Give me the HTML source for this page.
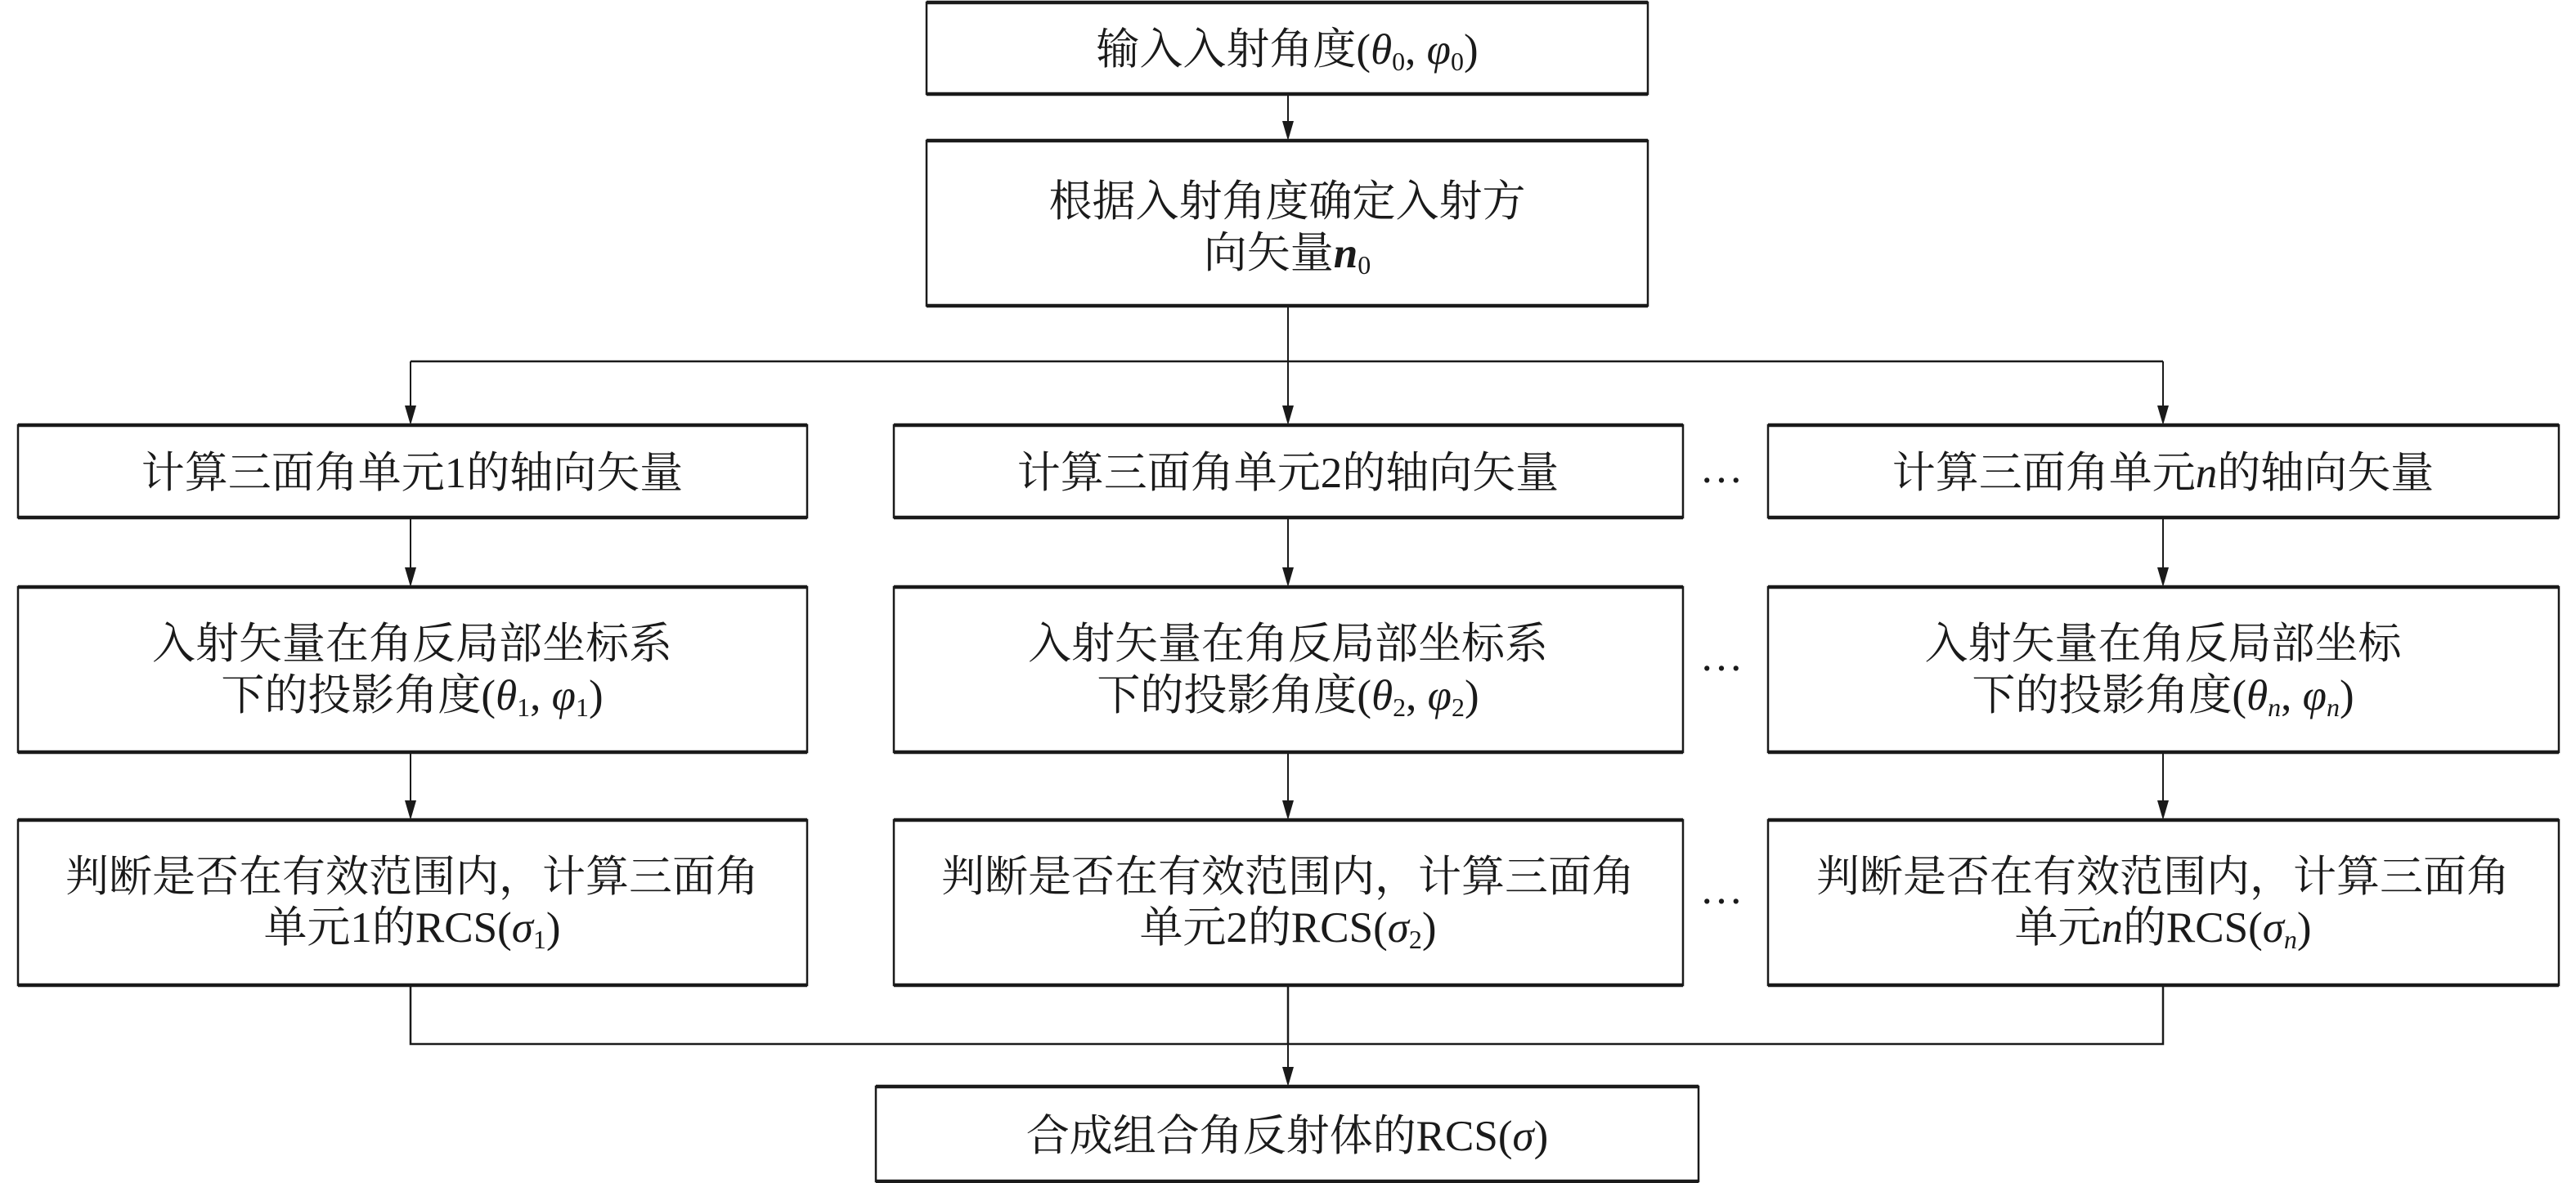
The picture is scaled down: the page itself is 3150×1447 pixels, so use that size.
<!DOCTYPE html>
<html><head><meta charset="utf-8"><style>
html,body{margin:0;padding:0;background:#fff;}
svg{display:block}
text{font-family:"Liberation Serif","Noto Serif CJK SC",serif;font-size:53px;fill:#1a1a1a;text-anchor:middle;}
.i{font-style:italic}
</style></head><body>
<svg width="3150" height="1447" viewBox="0 0 3150 1447" xmlns="http://www.w3.org/2000/svg">
<g fill="none" stroke="#1a1a1a" stroke-width="2.5">
<rect x="1133" y="3" width="882" height="112"/>
<rect x="1133" y="172" width="882" height="202"/>
<rect x="22" y="520" width="965" height="113"/><rect x="1093" y="520" width="965" height="113"/><rect x="2162" y="520" width="967" height="113"/>
<rect x="22" y="718" width="965" height="202"/><rect x="1093" y="718" width="965" height="202"/><rect x="2162" y="718" width="967" height="202"/>
<rect x="22" y="1003" width="965" height="202"/><rect x="1093" y="1003" width="965" height="202"/><rect x="2162" y="1003" width="967" height="202"/>
<rect x="1071" y="1329" width="1006" height="116"/>
<path d="M502,442 H2645"/>
<path d="M502,1205 V1277 H2645 V1205 M1575,1205 V1277"/>
</g>
<g stroke="#1a1a1a" stroke-width="4.5">
<path d="M1133,3H2015M1133,115H2015M1133,172H2015M1133,374H2015
M22,520H987M1093,520H2058M2162,520H3129M22,633H987M1093,633H2058M2162,633H3129
M22,718H987M1093,718H2058M2162,718H3129M22,920H987M1093,920H2058M2162,920H3129
M22,1003H987M1093,1003H2058M2162,1003H3129M22,1205H987M1093,1205H2058M2162,1205H3129
M1071,1329H2077M1071,1445H2077"/>
</g>
<g stroke="#1a1a1a" stroke-width="2">
<line x1="1575" y1="115" x2="1575" y2="148"/>
<line x1="1575" y1="374" x2="1575" y2="496"/>
<line x1="502" y1="442" x2="502" y2="496"/><line x1="2645" y1="442" x2="2645" y2="496"/>
<line x1="502" y1="633" x2="502" y2="694"/><line x1="1575" y1="633" x2="1575" y2="694"/><line x1="2645" y1="633" x2="2645" y2="694"/>
<line x1="502" y1="920" x2="502" y2="979"/><line x1="1575" y1="920" x2="1575" y2="979"/><line x1="2645" y1="920" x2="2645" y2="979"/>
<line x1="1575" y1="1277" x2="1575" y2="1305"/>
</g>
<g fill="#1a1a1a">
<polygon points="1568,148 1582,148 1575,172"/>
<polygon points="495,496 509,496 502,520"/><polygon points="1568,496 1582,496 1575,520"/><polygon points="2638,496 2652,496 2645,520"/>
<polygon points="495,694 509,694 502,718"/><polygon points="1568,694 1582,694 1575,718"/><polygon points="2638,694 2652,694 2645,718"/>
<polygon points="495,979 509,979 502,1003"/><polygon points="1568,979 1582,979 1575,1003"/><polygon points="2638,979 2652,979 2645,1003"/>
<polygon points="1568,1305 1582,1305 1575,1329"/>
</g>
<text x="1574" y="78">输入入射角度(<tspan class="i">θ</tspan><tspan font-size="32" dy="8">0</tspan><tspan dy="-8">, </tspan><tspan class="i">φ</tspan><tspan font-size="32" dy="8">0</tspan><tspan dy="-8">)</tspan></text>
<text x="1574" y="264">根据入射角度确定入射方</text>
<text x="1574" y="327">向矢量<tspan class="i" font-weight="bold">n</tspan><tspan font-size="32" dy="8">0</tspan></text>
<text x="504" y="596">计算三面角单元1的轴向矢量</text>
<text x="1575" y="596">计算三面角单元2的轴向矢量</text>
<text x="2645" y="596">计算三面角单元<tspan class="i">n</tspan>的轴向矢量</text>
<text x="2105" y="590">…</text>
<text x="504" y="805">入射矢量在角反局部坐标系</text>
<text x="504" y="868">下的投影角度(<tspan class="i">θ</tspan><tspan font-size="32" dy="8">1</tspan><tspan dy="-8">, </tspan><tspan class="i">φ</tspan><tspan font-size="32" dy="8">1</tspan><tspan dy="-8">)</tspan></text>
<text x="1575" y="805">入射矢量在角反局部坐标系</text>
<text x="1575" y="868">下的投影角度(<tspan class="i">θ</tspan><tspan font-size="32" dy="8">2</tspan><tspan dy="-8">, </tspan><tspan class="i">φ</tspan><tspan font-size="32" dy="8">2</tspan><tspan dy="-8">)</tspan></text>
<text x="2645" y="805">入射矢量在角反局部坐标</text>
<text x="2645" y="868">下的投影角度(<tspan class="i">θ</tspan><tspan font-size="32" dy="8" class="i">n</tspan><tspan dy="-8">, </tspan><tspan class="i">φ</tspan><tspan font-size="32" dy="8" class="i">n</tspan><tspan dy="-8">)</tspan></text>
<text x="2105" y="820">…</text>
<text x="504" y="1090">判断是否在有效范围内，计算三面角</text>
<text x="504" y="1152">单元1的RCS(<tspan class="i">σ</tspan><tspan font-size="32" dy="8">1</tspan><tspan dy="-8">)</tspan></text>
<text x="1575" y="1090">判断是否在有效范围内，计算三面角</text>
<text x="1575" y="1152">单元2的RCS(<tspan class="i">σ</tspan><tspan font-size="32" dy="8">2</tspan><tspan dy="-8">)</tspan></text>
<text x="2645" y="1090">判断是否在有效范围内，计算三面角</text>
<text x="2645" y="1152">单元<tspan class="i">n</tspan>的RCS(<tspan class="i">σ</tspan><tspan font-size="32" dy="8" class="i">n</tspan><tspan dy="-8">)</tspan></text>
<text x="2105" y="1105">…</text>
<text x="1574" y="1407">合成组合角反射体的RCS(<tspan class="i">σ</tspan>)</text>
</svg>
</body></html>
